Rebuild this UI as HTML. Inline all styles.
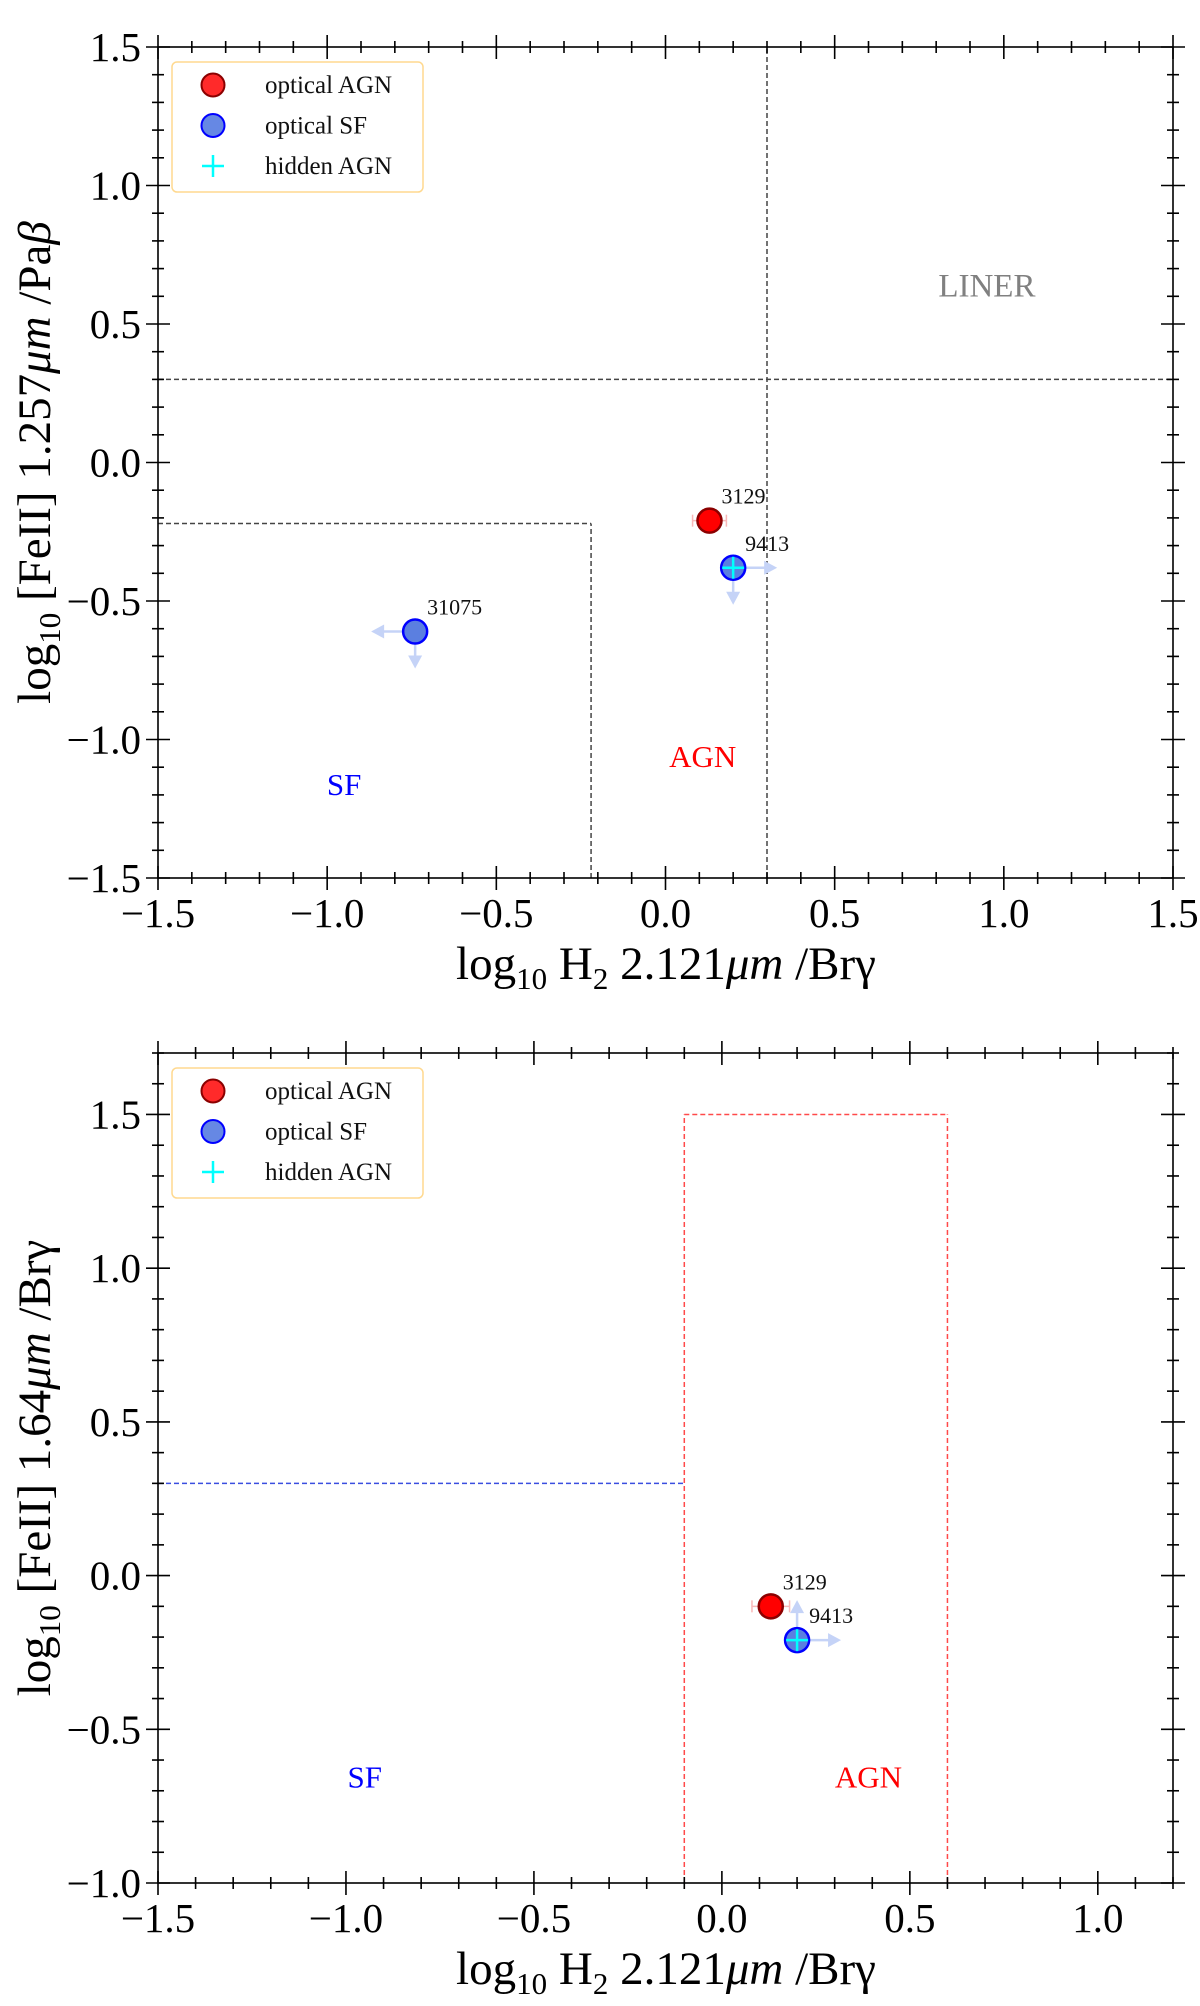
<!DOCTYPE html>
<html><head><meta charset="utf-8">
<style>
html,body{margin:0;padding:0;background:#fff;}
svg{display:block;font-family:"Liberation Serif",serif;}
</style></head>
<body>
<svg id="chart" width="1200" height="2006" viewBox="0 0 1200 2006" xmlns="http://www.w3.org/2000/svg"></svg>
<script>
// ---- data ----
const topXDomain = [-1.5, 1.5];
const topYDomain = [-1.5, 1.5];
const botXDomain = [-1.5, 1.2];
const botYDomain = [-1.0, 1.7];
const topXTicks = [-1.5, -1.0, -0.5, 0.0, 0.5, 1.0, 1.5];
const topYTicks = [-1.5, -1.0, -0.5, 0.0, 0.5, 1.0, 1.5];
const botXTicks = [-1.5, -1.0, -0.5, 0.0, 0.5, 1.0];
const botYTicks = [-1.0, -0.5, 0.0, 0.5, 1.0, 1.5];
const pointIds = ["3129", "9413", "31075"];
const pointClass = ["agn", "sf", "sf"];
const pointHidden = [false, true, false];
const topX = [0.13, 0.20, -0.74];
const topY = [-0.21, -0.38, -0.61];
const topXLim = [0, 1, -1];
const topYLim = [0, -1, -1];
const topXErr = [0.05, 0, 0];
const botIds = ["3129", "9413"];
const botClass = ["agn", "sf"];
const botHidden = [false, true];
const botX = [0.13, 0.20];
const botY = [-0.10, -0.21];
const botXLim = [0, 1];
const botYLim = [0, 1];
const botXErr = [0.05, 0];

const NS = "http://www.w3.org/2000/svg";
const svg = document.getElementById("chart");
function el(tag, attrs, parent, text) {
  const e = document.createElementNS(NS, tag);
  for (const k in attrs) e.setAttribute(k, attrs[k]);
  if (text !== undefined) e.textContent = text;
  (parent || svg).appendChild(e);
  return e;
}
function fmt(v){ const s = Math.abs(v).toFixed(1); return (v < 0 ? "\u2212" : "") + s; }

function makePanel(cfg) {
  const g = el("g", {});
  
  
  const L = 158, R = 1173, T = cfg.top, B = cfg.bottom;
  const sx = v => L + (v - cfg.xd[0]) / (cfg.xd[1] - cfg.xd[0]) * (R - L);
  const sy = v => B - (v - cfg.yd[0]) / (cfg.yd[1] - cfg.yd[0]) * (B - T);

  cfg.lines.forEach(ln => {
    const l = el("line", {x1: sx(ln[0]), y1: sy(ln[1]), x2: sx(ln[2]), y2: sy(ln[3]), stroke: ln[4], "stroke-width": 1.5, "stroke-dasharray": "5,3"}, g);
    
    
  });

  const fr = el("rect", {x: L, y: T, width: R - L, height: B - T, fill: "none", stroke: "#000", "stroke-width": 1.6}, g);
  
  

  const tg = el("g", {stroke: "#000", "stroke-width": 1.6}, g);
  
  
  const xs = Math.round(cfg.xd[0] * 10), xe = Math.round(cfg.xd[1] * 10);
  for (let i = xs; i <= xe; i++) {
    const x = sx(i / 10), maj = i % 5 === 0, len = maj ? 12 : 6;
    el("line", {x1: x, y1: B - len, x2: x, y2: B + len}, tg);
    el("line", {x1: x, y1: T - len, x2: x, y2: T + len}, tg);
  }
  const ys = Math.round(cfg.yd[0] * 10), ye = Math.round(cfg.yd[1] * 10);
  for (let i = ys; i <= ye; i++) {
    const y = sy(i / 10), maj = i % 5 === 0, len = maj ? 12 : 6;
    el("line", {x1: L - len, y1: y, x2: L + len, y2: y}, tg);
    el("line", {x1: R - len, y1: y, x2: R + len, y2: y}, tg);
  }
  cfg.xt.forEach(v => {
    const t = el("text", {x: sx(v), y: B + 49, "font-size": 41, "text-anchor": "middle"}, g, fmt(v));
    
    
  });
  cfg.yt.forEach(v => {
    const t = el("text", {x: 141, y: sy(v) + 14, "font-size": 41, "text-anchor": "end"}, g, fmt(v));
    
    
  });

  const xt = el("text", {x: 666, y: B + 101, "font-size": 47, "text-anchor": "middle"}, g);
  
  
  xt.innerHTML = 'log<tspan font-size="31" dy="10">10</tspan><tspan dy="-10"> H</tspan><tspan font-size="31" dy="10">2</tspan><tspan dy="-10"> 2.121</tspan><tspan font-style="italic">μm</tspan> /Brγ';
  const cy = (T + B) / 2;
  const yt = el("text", {x: 0, y: 0, "font-size": 47, "text-anchor": "middle", transform: `translate(50,${cy}) rotate(-90)`}, g);
  
  
  yt.innerHTML = cfg.ylabel;

  cfg.labels.forEach(lb => {
    const t = el("text", {x: sx(lb[0]), y: sy(lb[1]), "font-size": lb[4] || 30, fill: lb[2], "text-anchor": "middle"}, g, lb[3]);
    
    
  });

  const ac = "#c5d3f7";
  cfg.px.forEach((xv, i) => {
    const x = sx(xv), y = sy(cfg.py[i]);
    const pg = el("g", {}, g);
    
    
    if (cfg.xerr[i] > 0) {
      const e1 = sx(xv - cfg.xerr[i]), e2 = sx(xv + cfg.xerr[i]);
      el("line", {x1: e1, y1: y, x2: e2, y2: y, stroke: "#f8b8b8", "stroke-width": 1.5}, pg);
      el("line", {x1: e1, y1: y - 6, x2: e1, y2: y + 6, stroke: "#f8b8b8", "stroke-width": 1.5}, pg);
      el("line", {x1: e2, y1: y - 6, x2: e2, y2: y + 6, stroke: "#f8b8b8", "stroke-width": 1.5}, pg);
    }
    if (cfg.xlim[i] !== 0) {
      const d = cfg.xlim[i], tip = x + d * 44;
      el("line", {x1: x, y1: y, x2: tip - d * 10, y2: y, stroke: ac, "stroke-width": 2.5}, pg);
      el("polygon", {points: `${tip},${y} ${tip - d * 13},${y - 7} ${tip - d * 13},${y + 7}`, fill: ac}, pg);
    }
    if (cfg.ylim[i] !== 0) {
      const d = cfg.ylim[i], tip = y - d * (d > 0 ? 40 : 37);
      el("line", {x1: x, y1: y, x2: x, y2: tip + d * 10, stroke: ac, "stroke-width": 2.5}, pg);
      el("polygon", {points: `${x},${tip} ${x - 7},${tip + d * 13} ${x + 7},${tip + d * 13}`, fill: ac}, pg);
    }
    const agn = cfg.cls[i] === "agn";
    el("circle", {cx: x, cy: y, r: 12, fill: agn ? "#ff0000" : "#5b7fe0", stroke: agn ? "#8b0000" : "#0000ff", "stroke-width": 2.5}, pg);
    if (cfg.hidden[i]) {
      el("line", {x1: x - 11, y1: y, x2: x + 11, y2: y, stroke: "#00ffff", "stroke-width": 2.5}, pg);
      el("line", {x1: x, y1: y - 11, x2: x, y2: y + 11, stroke: "#00ffff", "stroke-width": 2.5}, pg);
    }
    el("text", {x: x + 12, y: y - 17, "font-size": 22, fill: "#111"}, pg, cfg.ids[i]);
  });

  const lg = el("g", {}, g);
  
  
  const ly = T + 15;
  el("rect", {x: 172, y: ly, width: 251, height: 130, rx: 5, fill: "#fff", stroke: "#ffd98f", "stroke-width": 1.5}, lg);
  const entries = [["optical AGN", "agn"], ["optical SF", "sf"], ["hidden AGN", "hid"]];
  entries.forEach((e, k) => {
    const ey = ly + 23 + k * 40.5;
    const eg = el("g", {}, lg);
    
    
    if (e[1] === "hid") {
      el("line", {x1: 202, y1: ey, x2: 224, y2: ey, stroke: "#00ffff", "stroke-width": 2.5}, eg);
      el("line", {x1: 213, y1: ey - 11, x2: 213, y2: ey + 11, stroke: "#00ffff", "stroke-width": 2.5}, eg);
    } else {
      const a = e[1] === "agn";
      el("circle", {cx: 213, cy: ey, r: 11.5, fill: a ? "#ff2a2a" : "#6688e4", stroke: a ? "#8b0000" : "#0000ff", "stroke-width": 2}, eg);
    }
    el("text", {x: 265, y: ey + 8, "font-size": 25, fill: "#111"}, eg, e[0]);
  });
}

makePanel({
  name: "top-panel-feii-pab", top: 47, bottom: 878, xd: topXDomain, yd: topYDomain, xt: topXTicks, yt: topYTicks,
  ylabel: 'log<tspan font-size="31" dy="10">10</tspan><tspan dy="-10"> [FeII] 1.257</tspan><tspan font-style="italic">μm</tspan> /Pa<tspan font-style="italic">β</tspan>',
  lines: [[-1.5, 0.3, 1.5, 0.3, "#444", "liner-boundary-horizontal"], [0.3, -1.5, 0.3, 1.5, "#444", "liner-boundary-vertical"],
          [-1.5, -0.22, -0.22, -0.22, "#444", "sf-box-top"], [-0.22, -1.5, -0.22, -0.22, "#444", "sf-box-right"]],
  labels: [[0.95, 0.6, "#808080", "LINER", 33, "liner-label"], [0.11, -1.1, "#ff0000", "AGN", 31, "agn-label"], [-0.95, -1.2, "#0000ff", "SF", 31, "sf-label"]],
  ids: pointIds, cls: pointClass, hidden: pointHidden, px: topX, py: topY, xlim: topXLim, ylim: topYLim, xerr: topXErr
});
makePanel({
  name: "bottom-panel-feii-brg", top: 1053, bottom: 1883, xd: botXDomain, yd: botYDomain, xt: botXTicks, yt: botYTicks,
  ylabel: 'log<tspan font-size="31" dy="10">10</tspan><tspan dy="-10"> [FeII] 1.64</tspan><tspan font-style="italic">μm</tspan> /Brγ',
  lines: [[-1.5, 0.3, -0.1, 0.3, "#3a4ee0", "sf-boundary"], [-0.1, -1.0, -0.1, 1.5, "#ff4a4a", "agn-box-left"],
          [-0.1, 1.5, 0.6, 1.5, "#ff4a4a", "agn-box-top"], [0.6, -1.0, 0.6, 1.5, "#ff4a4a", "agn-box-right"]],
  labels: [[-0.95, -0.69, "#0000ff", "SF", 31, "sf-label"], [0.39, -0.69, "#ff0000", "AGN", 31, "agn-label"]],
  ids: botIds, cls: botClass, hidden: botHidden, px: botX, py: botY, xlim: botXLim, ylim: botYLim, xerr: botXErr
});
</script>
</body></html>
